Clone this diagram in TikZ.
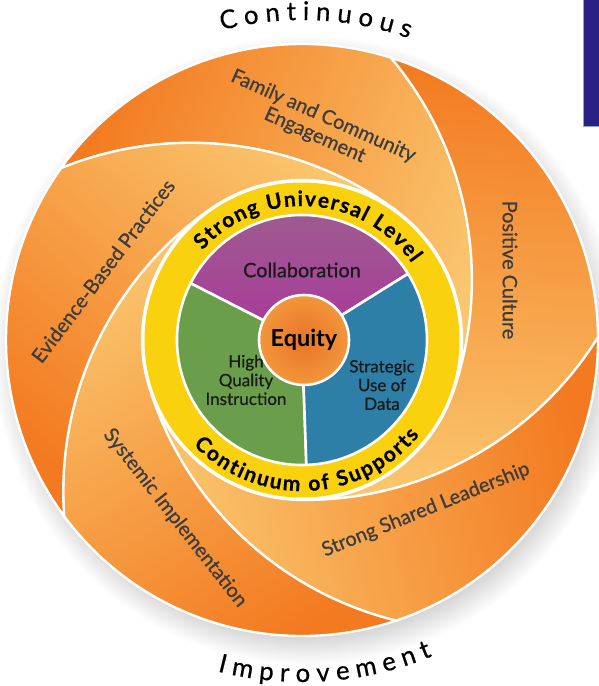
\documentclass[tikz,border=0pt]{standalone}
\usepackage{fontspec}
\setmainfont{Lato}
\newfontfamily\mediumfont[FakeBold=0.6]{Lato}
\usetikzlibrary{decorations.text}
\definecolor{petaldark}{HTML}{F37A20}
\definecolor{petallight}{HTML}{FAC66E}
\definecolor{ringyellow}{HTML}{F9D10E}
\definecolor{collabtop}{HTML}{9C5F8E}
\definecolor{collabpurple}{HTML}{AA389B}
\definecolor{hqigreen}{HTML}{6B9E4A}
\definecolor{datablue}{HTML}{2D7FA8}
\definecolor{equitydark}{HTML}{E8742A}
\definecolor{equitylight}{HTML}{F3963A}
\definecolor{navyblock}{HTML}{2A2185}
\definecolor{navyedge}{HTML}{8FA3CC}
\definecolor{labelgray}{HTML}{3C3C3C}
\pgfdeclareradialshading{halo}{\pgfpointorigin}{color(0bp)=(black!28); color(21bp)=(black!28); color(25bp)=(white)}
\tikzset{petal/.style={
        draw=white,
        line width=2pt,
        top color=petallight,
        bottom color=petaldark,
        shading angle=#1},
        %
        slice/.style={
            draw=white,
            line width=2.2pt,
            fill=#1},
        petallabel/.style={
            font=\mediumfont\fontsize{17}{18}\selectfont,
            text=labelgray,
            align=center},
        pielabel/.style={
            font=\mediumfont\fontsize{14.5}{16}\selectfont,
            text=black!90,
            align=center},
        curved/.style={
            decorate,
            decoration={text along path, text align={fit to path}, text={#1}}}
        }
\def\rout{296}
\def\rring{160}
\def\rswirl{345}
\def\rpie{125}
\def\ringfont{\mediumfont\bfseries\fontsize{18}{18}\selectfont}
\def\arcfont{\mediumfont\fontsize{22}{22}\selectfont}

\begin{document}
\begin{tikzpicture}[x=0.03cm, y=0.03cm]
\useasboundingbox (-302,-346) rectangle (297,340);

\shade[shading=halo] (5,-10) circle (315);

% swirl
\shade[petal=-113] (144.5:\rout) arc[start angle=144.5, end angle=72.5, radius=\rout] arc[start angle=40.1, end angle=-19, radius=\rswirl] arc[start angle=-19, end angle=53, radius=\rring] arc[start angle=53, end angle=112.1, radius=\rswirl] -- cycle;
\shade[petal=-185] (72.5:\rout) arc[start angle=72.5, end angle=0.5, radius=\rout] arc[start angle=-31.9, end angle=-91, radius=\rswirl] arc[start angle=-91, end angle=-19, radius=\rring] arc[start angle=-19, end angle=40.1, radius=\rswirl] -- cycle;
\shade[petal=-257] (0.5:\rout) arc[start angle=0.5, end angle=-71.5, radius=\rout] arc[start angle=-103.9, end angle=-163, radius=\rswirl] arc[start angle=-163, end angle=-91, radius=\rring] arc[start angle=-91, end angle=-31.9, radius=\rswirl] -- cycle;
\shade[petal=-329] (-71.5:\rout) arc[start angle=-71.5, end angle=-143.5, radius=\rout] arc[start angle=-175.9, end angle=-235, radius=\rswirl] arc[start angle=-235, end angle=-163, radius=\rring] arc[start angle=-163, end angle=-103.9, radius=\rswirl] -- cycle;
\shade[petal=-41] (-143.5:\rout) arc[start angle=-143.5, end angle=-215.5, radius=\rout] arc[start angle=-247.9, end angle=-307, radius=\rswirl] arc[start angle=-307, end angle=-235, radius=\rring] arc[start angle=-235, end angle=-175.9, radius=\rswirl] -- cycle;

\node[petallabel, rotate=-24] (family) at (17,214) {Family and Community\\Engagement};
\node[petallabel, rotate=-90] (culture) at (208,70) {Positive Culture};
\node[petallabel, rotate=22] (leadership) at (124,-170) {Strong Shared Leadership};
\node[petallabel, rotate=-52] (systemic) at (-127,-178) {Systemic Implementation};
\node[petallabel, rotate=53] (evidence) at (-199,69) {Evidence-Based Practices};

% ring
\fill[white] (0,0) circle (\rring);
\fill[ringyellow] (0,0) circle (157.5);
\path[curved={|\ringfont|Strong Universal Level}] (138:134) arc[start angle=138, end angle=35, radius=134];
\path[curved={|\ringfont|Continuum of Supports}] (224:151) arc[start angle=224, end angle=321, radius=151];

% pie
\shade[draw=white, line width=2.2pt, top color=collabtop, bottom color=collabpurple] (0,0) -- (32:\rpie) arc[start angle=32, end angle=153, radius=\rpie] -- cycle;
\filldraw[slice=hqigreen] (0,0) -- (153:\rpie) arc[start angle=153, end angle=272, radius=\rpie] -- cycle;
\filldraw[slice=datablue] (0,0) -- (272:\rpie) arc[start angle=272, end angle=392, radius=\rpie] -- cycle;
\node[circle, draw=white, line width=2.2pt, inner color=equitydark, outer color=equitylight, minimum size=2.7cm, font=\bfseries\fontsize{20}{20}\selectfont] (equity) at (2,0) {Equity};
\node[pielabel, font=\mediumfont\fontsize{17}{18}\selectfont] (collab) at (0,70) {Collaboration};
\node[pielabel] (quality) at (-56,-40) {High\\Quality\\Instruction};
\node[pielabel] (data) at (80,-45) {Strategic\\Use of\\Data};

\path[curved={|\arcfont|Continuous}] (104.5:320) arc[start angle=104.5, end angle=70.5, radius=320];
\path[curved={|\arcfont|Improvement}] (255.7:342) arc[start angle=255.7, end angle=292.4, radius=342];

\draw[draw=navyedge, fill=navyblock, line width=0.6pt] (281.5,214) rectangle (305,345);
\end{tikzpicture}
\end{document}
